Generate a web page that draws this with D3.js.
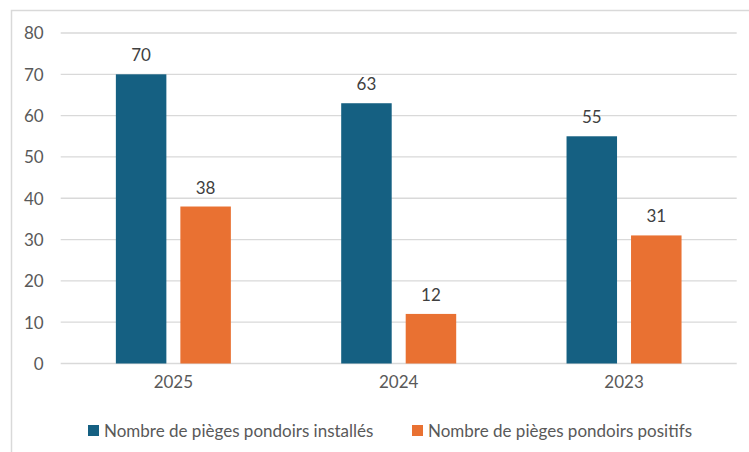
<!DOCTYPE html>
<html><head><meta charset="utf-8">
<script src="https://cdn.jsdelivr.net/npm/d3@7"></script>
<style>body{margin:0;background:#fff}svg{display:block}text{font-family:Lato,"Noto Sans",sans-serif}</style>
</head><body>
<script>
const categories = ["2025","2024","2023"];
const seriesNames = ["Nombre de pièges pondoirs installés","Nombre de pièges pondoirs positifs"];
const installes = [70,63,55];
const positifs = [38,12,31];
const yTicks = [0,10,20,30,40,50,60,70,80];
const colors = ["#156082","#E97132"];

const W=749,H=452;
const svg=d3.select("body").append("svg").attr("width",W).attr("height",H);
svg.append("rect").attr("x",11.5).attr("y",10.5).attr("width",W+10).attr("height",H+10)
  .attr("fill","#fff").attr("stroke","#d9d9d9").attr("stroke-width",1.5);

const pL=60.7,pR=736.7,pT=33,pB=363.5;
const x=d3.scaleBand().domain(categories).range([pL,pR]).paddingInner(0).paddingOuter(0);
const y=d3.scaleLinear().domain([0,80]).range([pB,pT]);

const grid=svg.append("g");
grid.selectAll("line").data(yTicks).join("line")
  .attr("x1",pL).attr("x2",pR).attr("y1",d=>y(d)).attr("y2",d=>y(d))
  .attr("stroke","#d9d9d9").attr("stroke-width",1.3);

const yAxis=svg.append("g").attr("transform",`translate(${pL-17},0)`)
  .call(d3.axisLeft(y).tickValues(yTicks).tickSize(0).tickPadding(0));
yAxis.select(".domain").remove();
yAxis.selectAll("text").attr("fill","#595959").style("font-size","17px").attr("dy","0.35em");

const xAxis=svg.append("g").attr("transform",`translate(0,${pB})`)
  .call(d3.axisBottom(x).tickSize(0).tickPadding(10));
xAxis.select(".domain").remove();
xAxis.selectAll("text").attr("fill","#595959").style("font-size","17px").attr("dy","0.85em");

const barW=50.5, gap=14;
const series=[installes,positifs];
series.forEach((vals,si)=>{
  const off = si===0 ? -(gap/2+barW) : gap/2;
  const g=svg.append("g");
  g.selectAll("rect").data(categories).join("rect")
    .attr("x",(c)=>x(c)+x.bandwidth()/2+off)
    .attr("y",(c,i)=>y(vals[i]))
    .attr("width",barW)
    .attr("height",(c,i)=>y(0)-y(vals[i]))
    .attr("fill",colors[si]);
  g.selectAll("text").data(categories).join("text")
    .attr("x",(c)=>x(c)+x.bandwidth()/2+off+barW/2)
    .attr("y",(c,i)=>y(vals[i])-13)
    .attr("text-anchor","middle").attr("fill","#404040").style("font-size","17px")
    .text((c,i)=>vals[i]);
});

const legendX=[88,412];
seriesNames.forEach((n,i)=>{
  svg.append("rect").attr("x",legendX[i]).attr("y",425).attr("width",11).attr("height",11).attr("fill",colors[i]);
  svg.append("text").attr("x",legendX[i]+16).attr("y",436.5).attr("fill","#595959").style("font-size","17px").text(n);
});
</script>
</body></html>
